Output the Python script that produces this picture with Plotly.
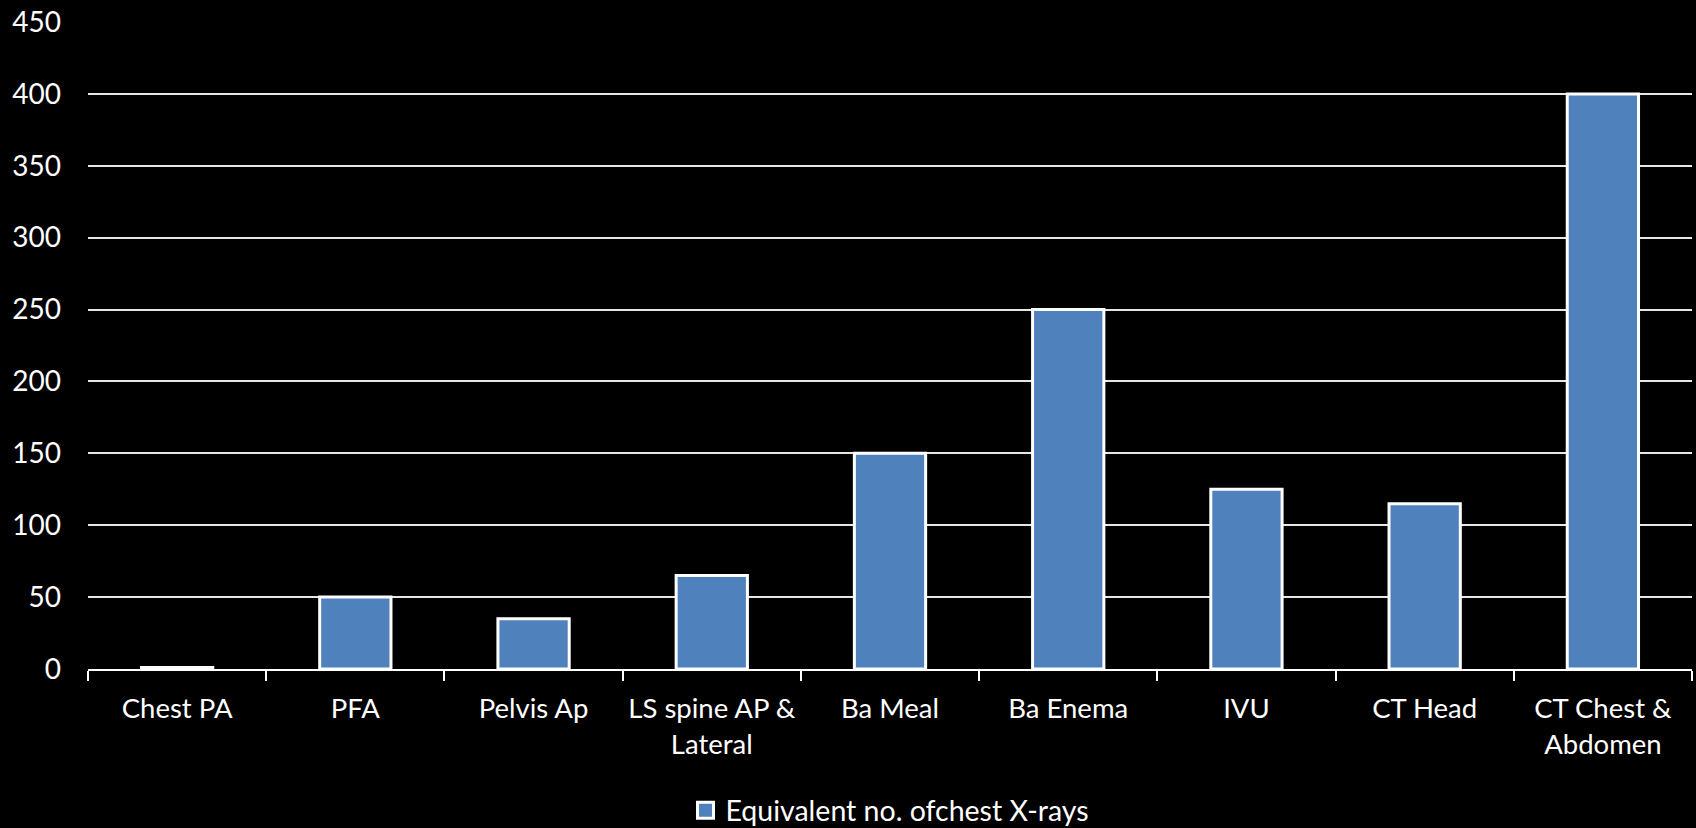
import plotly.graph_objects as go

categories = ["Chest PA", "PFA", "Pelvis Ap", "LS spine AP &<br>Lateral", "Ba Meal",
              "Ba Enema", "IVU", "CT Head", "CT Chest &<br>Abdomen"]
values = [1, 50, 35, 65, 150, 250, 125, 115, 400]
series_name = "Equivalent no. ofchest X-rays"
y_ticks = [0, 50, 100, 150, 200, 250, 300, 350, 400, 450]

FONT = "Lato"
BAR_COLOR = "#4F81BD"

fig = go.Figure()
fig.add_trace(go.Bar(
    x=categories, y=values, name=series_name, width=0.4,
    marker=dict(color=BAR_COLOR, line=dict(color="white", width=3)),
    showlegend=False,
))
# legend entry with a larger square swatch, as in the reference
fig.add_trace(go.Scatter(
    x=[None], y=[None], mode="markers", name=series_name,
    marker=dict(symbol="square", size=20, color=BAR_COLOR, line=dict(color="white", width=3)),
    showlegend=True,
))

fig.update_layout(
    width=1696, height=828,
    paper_bgcolor="black", plot_bgcolor="black",
    margin=dict(l=88, r=4, t=22, b=159, autoexpand=False),
    font=dict(family=FONT, size=28, color="white"),
    showlegend=True,
    legend=dict(orientation="h", x=0.5, xanchor="center", y=-0.219, yanchor="middle",
                font=dict(family=FONT, size=28.5, color="white"), bgcolor="rgba(0,0,0,0)",
                itemwidth=30),
    xaxis=dict(
        type="category", showgrid=False, showline=True, linecolor="white", linewidth=2,
        ticks="outside", tickson="boundaries", ticklen=10, tickwidth=2, tickcolor="white",
        tickfont=dict(family=FONT, size=27.5, color="white"), ticklabelstandoff=14,
        tickangle=0, automargin=False,
    ),
    yaxis=dict(
        range=[0, 450], tickvals=y_ticks, showgrid=True, gridcolor="#e6e6e6", gridwidth=2,
        zeroline=False, showline=False, ticks="",
        tickfont=dict(family=FONT, size=28, color="white"), ticklabelstandoff=26,
        automargin=False,
    ),
    bargap=0.6,
)

fig.write_html("out.html")
